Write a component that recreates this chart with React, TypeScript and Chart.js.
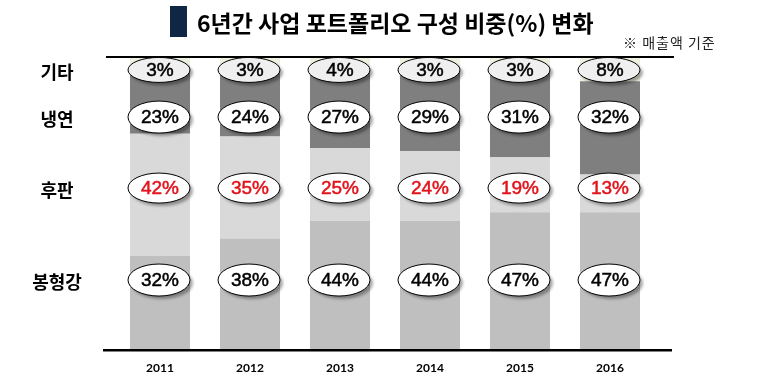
import React, { useEffect, useRef } from "react";
import { Chart, registerables } from "chart.js";
Chart.register(...registerables);

// ---- data ----
const years = ["2011", "2012", "2013", "2014", "2015", "2016"];
const steelBars = [32, 38, 44, 44, 47, 47]; // 봉형강
const plates = [42, 35, 25, 24, 19, 13]; // 후판
const coldRolled = [23, 24, 27, 29, 31, 32]; // 냉연
const others = [3, 3, 4, 3, 3, 8]; // 기타
const seriesNames = ["봉형강", "후판", "냉연", "기타"];
const titleText = "6년간 사업 포트폴리오 구성 비중(%) 변화";
const noteText = "※ 매출액 기준";

// ---- styling / layout constants ----
const seriesColors = ["#bfbfbf", "#d9d9d9", "#7f7f7f", "#ebf1de"];
const labelColors = ["#000000", "#e3121b", "#000000", "#000000"];
const ellipseFills = ["#ffffff", "#ffffff", "#ffffff", "#efefef"];
const ellipseHeights = [32, 30, 32, 25];
const labelRowLevels = [23.7, 55.3, 79.7, 95.9]; // positions on the 0-100 axis

export default function App() {
  const ref = useRef<HTMLCanvasElement | null>(null);

  useEffect(() => {
    document.body.style.margin = "0";
    const series = [steelBars, plates, coldRolled, others];

    const overlay = {
      id: "overlay",
      afterDatasetsDraw(chart: any) {
        const ctx = chart.ctx as CanvasRenderingContext2D;
        const area = chart.chartArea;
        const xs = chart.scales.x;
        const ys = chart.scales.y;
        ctx.save();

        // top & bottom rules
        ctx.strokeStyle = "#000";
        ctx.lineWidth = 2;
        ctx.beginPath();
        ctx.moveTo(area.left - 9, area.top - 1);
        ctx.lineTo(area.right + 19, area.top - 1);
        ctx.stroke();
        ctx.lineWidth = 2.5;
        ctx.beginPath();
        ctx.moveTo(area.left - 12, area.bottom + 1.2);
        ctx.lineTo(area.right + 17, area.bottom + 1.2);
        ctx.stroke();

        // ellipse labels
        series.forEach((vals, s) => {
          const cy = ys.getPixelForValue(labelRowLevels[s]);
          const h = ellipseHeights[s];
          vals.forEach((v, i) => {
            const cx = xs.getPixelForValue(i) - 1;
            ctx.save();
            ctx.shadowColor = "rgba(0,0,0,0.35)";
            ctx.shadowOffsetX = 3;
            ctx.shadowOffsetY = 3;
            ctx.shadowBlur = 3;
            ctx.beginPath();
            ctx.ellipse(cx, cy, 31, h / 2, 0, 0, Math.PI * 2);
            ctx.fillStyle = ellipseFills[s];
            ctx.fill();
            ctx.restore();
            ctx.beginPath();
            ctx.ellipse(cx, cy, 31, h / 2, 0, 0, Math.PI * 2);
            ctx.strokeStyle = "#000";
            ctx.lineWidth = 1;
            ctx.stroke();
            ctx.fillStyle = labelColors[s];
            ctx.strokeStyle = labelColors[s];
            ctx.lineWidth = 0.5;
            ctx.font = "19px 'Liberation Sans', Arial, sans-serif";
            ctx.textAlign = "center";
            ctx.textBaseline = "middle";
            ctx.fillText(v + "%", cx + 1, cy + 1);
            ctx.strokeText(v + "%", cx + 1, cy + 1);
          });
          // row name at left
          ctx.fillStyle = "#000";
          ctx.font = "bold 18px 'Noto Sans CJK KR', sans-serif";
          ctx.textAlign = "center";
          ctx.textBaseline = "middle";
          ctx.fillText(seriesNames[s], 57, cy + 2);
        });

        // year labels
        ctx.fillStyle = "#000";
        ctx.font = "bold 12px Lato, sans-serif";
        ctx.textAlign = "center";
        ctx.textBaseline = "middle";
        years.forEach((y, i) => {
          ctx.fillText(y, xs.getPixelForValue(i), area.bottom + 19);
        });

        // title
        ctx.fillStyle = "#0f2644";
        ctx.fillRect(170, 6, 17, 31);
        ctx.fillStyle = "#000";
        ctx.font = "bold 23px 'Noto Sans CJK KR', sans-serif";
        ctx.textAlign = "left";
        ctx.textBaseline = "middle";
        ctx.fillText(titleText, 197, 23);

        ctx.fillStyle = "#222";
        ctx.font = "14px 'Noto Sans CJK KR', sans-serif";
        (ctx as any).letterSpacing = "1px";
        ctx.fillText(noteText, 623, 43);
        (ctx as any).letterSpacing = "0px";
        ctx.restore();
      },
    };

    const chart = new Chart(ref.current as HTMLCanvasElement, {
      type: "bar",
      data: {
        labels: years,
        datasets: series.map((vals, s) => ({
          label: seriesNames[s],
          data: vals,
          backgroundColor: seriesColors[s],
          borderWidth: 0,
          categoryPercentage: 1,
          barPercentage: 60 / 90,
        })),
      },
      options: {
        responsive: false,
        animation: false,
        layout: { padding: { left: 115, right: 105, top: 58, bottom: 37 } },
        plugins: { legend: { display: false }, tooltip: { enabled: false }, title: { display: false } },
        scales: {
          x: { stacked: true, display: false },
          y: { stacked: true, display: false, min: 0, max: 100 },
        },
      },
      plugins: [overlay],
    });
    return () => chart.destroy();
  }, []);

  return (
    <div style={{ position: "fixed", left: 0, top: 0, width: 760, height: 386, background: "#fff" }}>
      <canvas ref={ref} width={760} height={386} style={{ width: 760, height: 386 }} />
    </div>
  );
}
